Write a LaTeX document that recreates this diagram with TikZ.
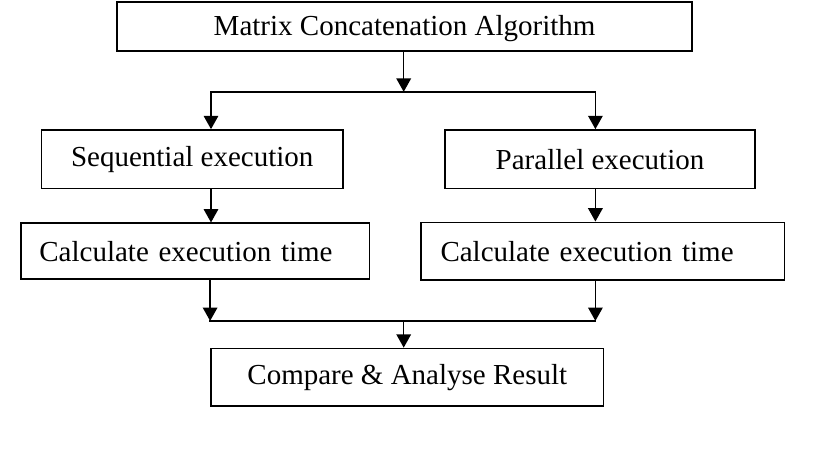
\documentclass[tikz,border=0pt]{standalone}
\usepackage{fontspec}
\setmainfont{Liberation Serif}
\usepackage{tikz}
\usetikzlibrary{arrows.meta}
\tikzset{%
  tipA/.tip={Triangle[width=7.3pt,length=6.7pt]},
  blk/.style={draw, rectangle, line width=0.75pt, inner sep=0pt, align=center,
    font=\fontsize{14.5}{17}\selectfont},
  conn/.style={line width=0.75pt, -tipA},
  wire/.style={line width=0.75pt, line cap=rect}
}

\begin{document}
\begin{tikzpicture}[x=0.5pt,y=-0.5pt]
\useasboundingbox (0,0) rectangle (840,456);
\node[blk, line width=1pt, minimum width=287.2pt, minimum height=24.4pt, text height=12pt, text depth=3.2pt] (algo) at (404.6,26.5) {Matrix Concatenation Algorithm};
\node[blk, minimum width=150.9pt, minimum height=29.3pt] (seq) at (192.2,159.2) {Sequential execution};
\node[blk, minimum width=155pt, minimum height=29.3pt] (par) at (600,159.2) {Parallel execution};
\node[blk, align=left, inner xsep=9.15pt, text width=156pt, minimum height=28pt] (seqtime) at (195.4,251.2) {Calculate execution time};
\node[blk, align=left, inner xsep=9.65pt, text width=162.3pt, minimum height=28.9pt] (partime) at (602.8,251.2) {Calculate execution time};
\node[blk, minimum width=196.3pt, minimum height=28.9pt] (result) at (407.3,377.3) {Compare \& Analyse Result};
% junctions
\coordinate (split) at (403.7,91.8);
\coordinate (splitL) at (211,91.8);
\coordinate (splitR) at (595.4,91.8);
\coordinate (merge) at (403.7,320.9);
\coordinate (mergeL) at (210.1,320.9);
\coordinate (mergeR) at (595.4,320.9);
\draw[conn] (algo.south -| split) -- (split);
\draw[wire] (splitL) -- (splitR);
\draw[conn] (splitL) -- (splitL |- seq.north);
\draw[conn] (splitR) -- (splitR |- par.north);
\draw[conn] (seq.south -| splitL) -- (seqtime.north -| splitL);
\draw[conn] (par.south -| splitR) -- (partime.north -| splitR);
\draw[conn] (seqtime.south -| mergeL) -- (mergeL);
\draw[conn] (partime.south -| mergeR) -- (mergeR);
\draw[wire] (mergeL) -- (mergeR);
\draw[conn] (merge) -- (merge |- result.north);
\end{tikzpicture}
\end{document}
